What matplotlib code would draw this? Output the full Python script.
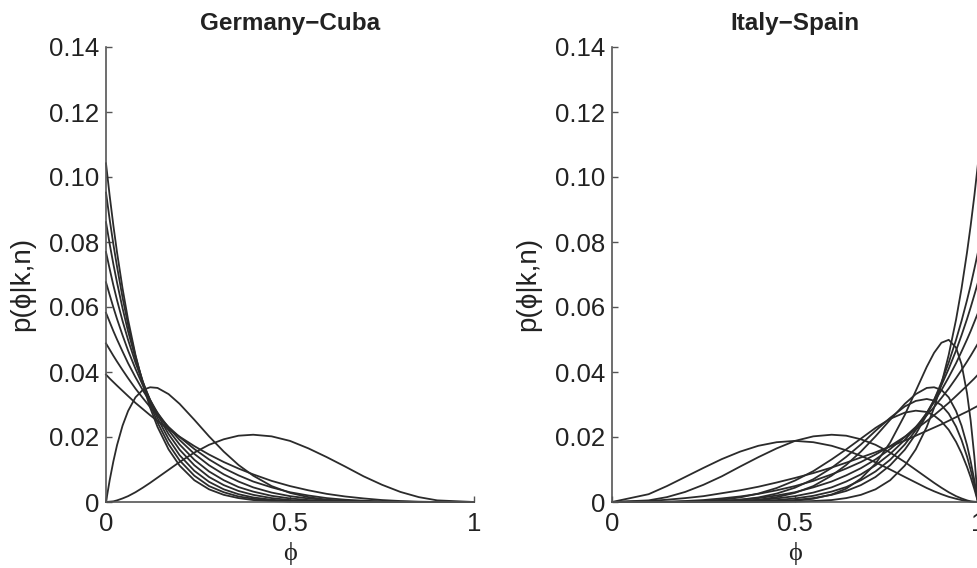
import matplotlib
matplotlib.use("Agg")
import matplotlib.pyplot as plt

plt.rcParams['font.family'] = ['Liberation Sans', 'DejaVu Sans']

phi_left = [0, .01, .02, .03, .045, .06, .08, .10, .12, .14, .17, .20, .24, .28,
            .32, .36, .40, .45, .50, .55, .60, .65, .70, .75, .80, .85, .90, 1.0]
phi_right = [0, .10, .15, .20, .25, .30, .35, .40, .45, .50, .55, .60, .64, .68,
             .72, .76, .80, .83, .86, .88, .90, .92, .94, .955, .97, .98, .99, 1.0]

# Germany-Cuba
gc_k0_n3 = [.0392, .0380, .0369, .0358, .0342, .0326, .0305, .0286, .0267, .0249, .0224, .0201, .0172, .0146,
            .0123, .0103, .0085, .0065, .0049, .0036, .0025, .0017, .0011, .0006, .0003, .0001, 0, 0]
gc_k0_n4 = [.0488, .0469, .0450, .0432, .0406, .0381, .0349, .0320, .0292, .0267, .0231, .0200, .0163, .0131,
            .0104, .0082, .0063, .0045, .0030, .0020, .0012, .0007, .0004, .0002, .0001, 0, 0, 0]
gc_k0_n5 = [.0582, .0554, .0526, .0500, .0463, .0427, .0384, .0344, .0307, .0274, .0229, .0191, .0148, .0113,
            .0085, .0063, .0045, .0029, .0018, .0011, .0006, .0003, .0001, .0001, 0, 0, 0, 0]
gc_k0_n6 = [.0676, .0637, .0599, .0563, .0513, .0466, .0410, .0359, .0314, .0274, .0221, .0177, .0130, .0094,
            .0067, .0046, .0032, .0019, .0011, .0006, .0003, .0001, 0, 0, 0, 0, 0, 0]
gc_k0_n7 = [.0769, .0717, .0667, .0621, .0557, .0499, .0429, .0368, .0314, .0268, .0209, .0161, .0113, .0077,
            .0052, .0034, .0022, .0012, .0006, .0003, .0001, 0, 0, 0, 0, 0, 0, 0]
gc_k0_n8 = [.0861, .0794, .0732, .0675, .0596, .0525, .0442, .0371, .0310, .0258, .0194, .0144, .0096, .0062,
            .0039, .0024, .0014, .0007, .0003, .0001, .0001, 0, 0, 0, 0, 0, 0, 0]
gc_k0_n9 = [.0952, .0869, .0793, .0724, .0629, .0545, .0449, .0369, .0301, .0245, .0178, .0128, .0081, .0049,
            .0030, .0017, .0010, .0004, .0002, .0001, 0, 0, 0, 0, 0, 0, 0, 0]
gc_k0_n10 = [.1042, .0942, .0851, .0768, .0657, .0561, .0453, .0363, .0290, .0231, .0162, .0112, .0067, .0039,
             .0022, .0012, .0006, .0003, .0001, 0, 0, 0, 0, 0, 0, 0, 0, 0]
gc_k1_n8 = [0, .0067, .0125, .0175, .0235, .0280, .0322, .0345, .0353, .0351, .0332, .0302, .0253, .0202,
            .0155, .0114, .0081, .0049, .0028, .0015, .0007, .0003, .0001, 0, 0, 0, 0, 0]
gc_k2_n5 = [0, .0001, .0002, .0005, .0011, .0018, .0030, .0044, .0059, .0075, .0099, .0123, .0152, .0176,
            .0193, .0204, .0207, .0202, .0188, .0165, .0138, .0109, .0079, .0053, .0031, .0015, .0005, 0]

# Italy-Spain
is_k2_n2 = [0, .0003, .0007, .0012, .0018, .0027, .0036, .0047, .0060, .0074, .0089, .0106, .0121, .0137,
            .0153, .0171, .0189, .0204, .0219, .0229, .0239, .0250, .0261, .0270, .0278, .0284, .0290, .0296]
is_k3_n3 = [0, 0, .0001, .0003, .0006, .0011, .0017, .0025, .0036, .0049, .0065, .0085, .0103, .0123,
            .0146, .0172, .0201, .0224, .0249, .0267, .0286, .0305, .0326, .0342, .0358, .0369, .0380, .0392]
is_k4_n4 = [0, 0, 0, .0001, .0002, .0004, .0007, .0012, .0020, .0030, .0045, .0063, .0082, .0104,
            .0131, .0163, .0200, .0231, .0267, .0292, .0320, .0349, .0381, .0406, .0432, .0450, .0469, .0488]
is_k5_n5 = [0, 0, 0, 0, .0001, .0001, .0003, .0006, .0011, .0018, .0029, .0045, .0063, .0085,
            .0113, .0148, .0191, .0229, .0274, .0307, .0344, .0384, .0427, .0463, .0500, .0526, .0554, .0582]
is_k6_n6 = [0, 0, 0, 0, 0, 0, .0001, .0003, .0006, .0011, .0019, .0032, .0046, .0067,
            .0094, .0130, .0177, .0221, .0274, .0314, .0359, .0410, .0466, .0513, .0563, .0599, .0637, .0676]
is_k7_n7 = [0, 0, 0, 0, 0, 0, 0, .0001, .0003, .0006, .0012, .0022, .0034, .0052,
            .0077, .0113, .0161, .0209, .0268, .0314, .0368, .0429, .0499, .0557, .0621, .0667, .0717, .0769]
is_k10_n10 = [0, 0, 0, 0, 0, 0, 0, 0, 0, .0001, .0003, .0006, .0012, .0022,
              .0039, .0067, .0112, .0162, .0231, .0290, .0363, .0453, .0561, .0657, .0768, .0851, .0942, .1042]
is_k11_n12 = [0, 0, 0, 0, 0, 0, 0, 0, .0001, .0004, .0010, .0023, .0041, .0072,
              .0118, .0183, .0268, .0342, .0416, .0459, .0490, .0499, .0475, .0424, .0335, .0250, .0140, 0]
is_k7_n8 = [0, 0, 0, 0, 0, .0001, .0003, .0007, .0015, .0028, .0049, .0081, .0114, .0155,
            .0202, .0253, .0302, .0332, .0351, .0353, .0345, .0322, .0280, .0235, .0175, .0125, .0067, 0]
is_k6_n7 = [0, 0, 0, 0, .0001, .0003, .0007, .0014, .0026, .0044, .0070, .0105, .0139, .0177,
            .0219, .0259, .0294, .0311, .0317, .0312, .0298, .0272, .0232, .0191, .0140, .0099, .0053, 0]
is_k5_n6 = [0, 0, 0, .0001, .0003, .0007, .0014, .0026, .0043, .0066, .0095, .0131, .0162, .0195,
            .0228, .0256, .0275, .0281, .0277, .0266, .0248, .0222, .0185, .0150, .0108, .0076, .0040, 0]
is_k3_n5 = [0, .0005, .0015, .0031, .0053, .0079, .0109, .0138, .0165, .0188, .0202, .0207, .0204, .0193,
            .0176, .0152, .0123, .0099, .0075, .0059, .0044, .0030, .0018, .0011, .0005, .0002, .0001, 0]
is_k2_n4 = [0, .0024, .0049, .0077, .0105, .0132, .0155, .0173, .0184, .0188, .0184, .0173, .0159, .0142,
            .0122, .0100, .0077, .0060, .0043, .0033, .0024, .0016, .0010, .0006, .0003, .0001, 0, 0]

left_curves = [gc_k0_n3, gc_k0_n4, gc_k0_n5, gc_k0_n6, gc_k0_n7, gc_k0_n8, gc_k0_n9, gc_k0_n10,
               gc_k1_n8, gc_k2_n5]
right_curves = [is_k2_n2, is_k3_n3, is_k4_n4, is_k5_n5, is_k6_n6, is_k7_n7, is_k10_n10,
                is_k11_n12, is_k7_n8, is_k6_n7, is_k5_n6, is_k3_n5, is_k2_n4]

yticks = [0, .02, .04, .06, .08, .10, .12, .14]
yticklabels = ["0", "0.02", "0.04", "0.06", "0.08", "0.10", "0.12", "0.14"]

fig = plt.figure(figsize=(9.77, 5.68), dpi=100)
ax1 = fig.add_axes([106 / 977, 66 / 568, 368 / 977, 455 / 568])
ax2 = fig.add_axes([612 / 977, 66 / 568, 366 / 977, 455 / 568])

for ax, phi, curves, title in ((ax1, phi_left, left_curves, "Germany\u2212Cuba"),
                               (ax2, phi_right, right_curves, "Italy\u2212Spain")):
    for c in curves:
        ax.plot(phi, c, color="#2b2b2b", lw=1.3, clip_on=False)
    ax.set_xlim(0, 1)
    ax.set_ylim(0, 0.14)
    ax.set_xticks([0, 0.5, 1])
    ax.set_xticklabels(["0", "0.5", "1"])
    ax.set_yticks(yticks)
    ax.set_yticklabels(yticklabels)
    ax.spines['top'].set_visible(False)
    ax.spines['right'].set_visible(False)
    for s in ('left', 'bottom'):
        ax.spines[s].set_linewidth(1.2)
        ax.spines[s].set_color("#555555")
    ax.tick_params(direction="in", length=4, width=1, colors="#555555", labelcolor="#222222",
                   labelsize=18.5)
    ax.tick_params(axis="y", pad=5)
    ax.tick_params(axis="x", pad=7)
    ax.set_title(title, fontsize=17.5, fontweight="bold", color="#222222", pad=12)
    ax.set_xlabel("\u03d5", fontsize=19, color="#222222", va="center",
                  family=['Liberation Serif', 'DejaVu Serif'])
    ax.xaxis.set_label_coords(0.5, -0.113)
    ax.set_ylabel("p(\u03d5|k,n)", fontsize=20, color="#222222", va="center")
    ax.yaxis.set_label_coords(-0.228, 0.48)

fig.savefig("out.png", dpi=100, facecolor="white")
